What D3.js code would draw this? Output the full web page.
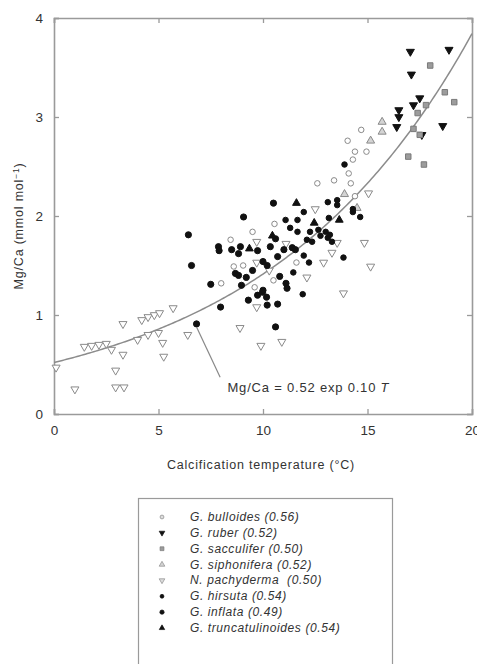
<!DOCTYPE html>
<html>
<head>
<meta charset="utf-8">
<script src="https://cdn.jsdelivr.net/npm/d3@7"></script>
<style>
  body { margin: 0; background: #fff; }
  svg { display: block; font-family: "Liberation Sans", Arial, sans-serif; }
  .tick-label { font-size: 13.5px; fill: #333; }
  .axis-title { font-size: 12.5px; fill: #333; letter-spacing: 0.8px; }
  .legend-text { font-size: 12px; fill: #333; font-style: italic; letter-spacing: 0.6px; }
</style>
</head>
<body>
<div id="wrapper"></div>
<script>
// [temperature °C, Mg/Ca mmol/mol]
const bulloides = [[14.7,2.87],[14.05,2.76],[14.4,2.65],[14.95,2.65],[14.3,2.57],[14.1,2.43],[14.2,2.33],
  [12.6,2.33],[13.4,2.36],[10.55,1.92],[9.5,1.84],[8.45,1.76],[8.6,1.49],[9.05,1.5],[8.0,1.32],
  [9.6,1.28],[11.6,1.53],[10.5,1.35],[14.4,2.2]]
const ruber = [[17.05,3.66],[18.9,3.68],[17.1,3.43],[17.5,3.19],[17.2,3.12],[16.5,3.07],[16.5,3.0],
  [16.4,2.9],[18.6,2.91],[17.6,2.82]]
const sacculifer = [[18.0,3.52],[18.7,3.25],[19.15,3.15],[17.8,3.12],[17.4,3.04],[17.2,2.88],[17.5,2.82],
  [16.95,2.6],[17.7,2.52]]
const siphonifera = [[15.7,2.95],[15.7,2.85],[15.15,2.76],[14.5,2.08],[13.9,2.22]]
const pachyderma = [[0.1,0.47],[1.0,0.25],[1.45,0.68],[1.8,0.69],[2.15,0.7],[2.5,0.71],[2.75,0.65],
  [3.3,0.91],[3.3,0.6],[2.95,0.44],[2.95,0.27],[3.35,0.27],[4.2,0.95],[4.5,0.98],[4.8,1.0],[5.05,1.02],
  [5.7,1.07],[4.0,0.75],[4.5,0.8],[5.0,0.82],[5.2,0.72],[5.25,0.58],[6.4,0.8],[8.9,0.87],[9.9,0.69],
  [10.9,0.73],[9.7,1.08],[9.7,1.53],[9.7,1.74],[12.5,2.07],[14.85,1.73],[15.15,1.49],[13.85,1.22],
  [12.1,1.38],[15.05,2.23],[13.55,1.73],[13.3,1.63],[10.3,1.45],[12.9,1.53],[11.1,1.72]]
const hirsuta = [[11.08,1.96],[11.65,1.96],[11.95,2.04],[11.3,1.88],[11.65,1.84],[12.25,1.84],[12.65,1.86],
  [13.0,1.84],[13.1,1.78],[13.2,1.81],[12.1,1.76],[12.35,1.74],[13.1,2.14],[13.55,2.11],[14.3,2.04],
  [14.65,1.99],[13.15,1.98],[13.55,2.16],[14.3,2.07],[13.85,1.58],[13.9,2.52],[12.2,1.53],[11.95,1.6],
  [11.45,1.43],[11.9,1.21],[12.75,1.8],[13.3,1.74]]
const inflata = [[6.43,1.81],[6.58,1.5],[7.5,1.31],[6.82,0.91],[7.97,1.08],[9.07,1.99],[7.87,1.69],[7.9,1.65],
  [8.92,1.69],[8.83,1.62],[9.74,1.65],[8.68,1.42],[8.83,1.4],[9.2,1.38],[8.97,1.3],[9.74,1.2],[9.98,1.23],
  [10.17,1.18],[9.3,1.15],[10.2,1.1],[10.7,1.11],[10.6,0.88],[10.5,2.13],[10.35,1.69],[11.0,1.66],
  [11.4,1.68],[11.55,1.66],[10.7,1.59],[10.2,1.5],[10.0,1.54],[10.8,1.39],[11.1,1.32],[11.15,1.27],
  [10.0,1.25],[10.6,1.77],[8.5,1.66],[9.5,1.45]]
const truncatulinoides = [[11.6,2.13],[13.65,1.96],[9.35,1.67],[12.45,1.93],[10.45,1.8]]

const xTicks = [0, 5, 10, 15, 20]
const yTicks = [0, 1, 2, 3, 4]
const legendLabels = ["G. bulloides (0.56)", "G. ruber (0.52)", "G. sacculifer (0.50)",
  "G. siphonifera (0.52)", "N. pachyderma  (0.50)", "G. hirsuta (0.54)", "G. inflata (0.49)",
  "G. truncatulinoides (0.54)"]
const fitA = 0.52
const fitB = 0.10

function drawChart() {
  const dimensions = {
    width: 477,
    height: 664,
    margin: { top: 18, left: 54 },
    boundedWidth: 418,
    boundedHeight: 396,
  }

  const wrapper = d3.select("#wrapper").append("svg")
    .attr("width", dimensions.width)
    .attr("height", dimensions.height)

  const bounds = wrapper.append("g")
    .attr("transform", `translate(${dimensions.margin.left},${dimensions.margin.top})`)

  const xScale = d3.scaleLinear().domain([0, 20]).range([0, dimensions.boundedWidth])
  const yScale = d3.scaleLinear().domain([0, 4]).range([dimensions.boundedHeight, 0])

  const frameColor = "#9a9a9a"

  // axes: ticks inside on all four sides
  const tickIn = 5
  const bottomAxis = bounds.append("g")
    .attr("transform", `translate(0,${dimensions.boundedHeight})`)
    .call(d3.axisBottom(xScale).tickValues(xTicks).tickSize(-tickIn).tickPadding(11).tickFormat(d3.format("d")))
  const topAxis = bounds.append("g")
    .call(d3.axisTop(xScale).tickValues(xTicks).tickSize(-tickIn).tickFormat(""))
  const leftAxis = bounds.append("g")
    .call(d3.axisLeft(yScale).tickValues(yTicks).tickSize(-tickIn).tickPadding(11).tickFormat(d3.format("d")))
  const rightAxis = bounds.append("g")
    .attr("transform", `translate(${dimensions.boundedWidth},0)`)
    .call(d3.axisRight(yScale).tickValues(yTicks).tickSize(-tickIn).tickFormat(""))

  ;[bottomAxis, topAxis, leftAxis, rightAxis].forEach(ax => {
    ax.select(".domain").attr("stroke", frameColor).attr("stroke-width", 1.6)
    ax.selectAll(".tick line").attr("stroke", frameColor).attr("stroke-width", 1.3)
    ax.selectAll(".tick text").attr("class", "tick-label")
      .attr("font-family", null).attr("font-size", null).attr("fill", "#333")
  })

  // fitted curve
  const curveData = d3.range(0, 20.01, 0.1)
  bounds.append("path")
    .attr("d", d3.line()
      .x(t => xScale(t))
      .y(t => yScale(fitA * Math.exp(fitB * t)))(curveData))
    .attr("fill", "none")
    .attr("stroke", "#8c8c8c")
    .attr("stroke-width", 1.5)

  // symbol styles
  const triUp = d3.symbol().type(d3.symbolTriangle)
  const styles = [
    { data: bulloides, path: d3.symbol().type(d3.symbolCircle).size(24)(), rot: 0, fill: "#fff", stroke: "#8a8a8a" },
    { data: ruber, path: triUp.size(28)(), rot: 180, fill: "#111", stroke: "#111" },
    { data: sacculifer, path: d3.symbol().type(d3.symbolSquare).size(30)(), rot: 0, fill: "#9c9c9c", stroke: "#7a7a7a" },
    { data: siphonifera, path: triUp.size(28)(), rot: 0, fill: "#d4d4d4", stroke: "#8a8a8a" },
    { data: pachyderma, path: triUp.size(28)(), rot: 180, fill: "#fff", stroke: "#8a8a8a" },
    { data: hirsuta, path: d3.symbol().type(d3.symbolCircle).size(24)(), rot: 0, fill: "#111", stroke: "#111" },
    { data: inflata, path: d3.symbol().type(d3.symbolCircle).size(30)(), rot: 0, fill: "#111", stroke: "#111" },
    { data: truncatulinoides, path: triUp.size(26)(), rot: 0, fill: "#111", stroke: "#111" },
  ]

  styles.forEach(s => {
    bounds.append("g").selectAll("path")
      .data(s.data)
      .join("path")
      .attr("d", s.path)
      .attr("transform", d => `translate(${xScale(d[0])},${yScale(d[1])}) rotate(${s.rot})`)
      .attr("fill", s.fill)
      .attr("stroke", s.stroke)
      .attr("stroke-width", 1)
  })

  // equation annotation with leader line
  const leaderFrom = inflata[3]
  bounds.append("line")
    .attr("x1", xScale(leaderFrom[0]))
    .attr("y1", yScale(leaderFrom[1]) + 3)
    .attr("x2", xScale(7.95))
    .attr("y2", yScale(0.37))
    .attr("stroke", "#888")
    .attr("stroke-width", 1.2)
  const eq = bounds.append("text")
    .attr("x", xScale(8.3))
    .attr("y", yScale(0.22))
    .attr("font-size", 13)
    .attr("letter-spacing", 0.8)
    .attr("fill", "#333")
  eq.append("tspan").text(`Mg/Ca = ${fitA.toFixed(2)} exp ${fitB.toFixed(2)} `)
  eq.append("tspan").attr("font-style", "italic").text("T")

  // axis titles
  wrapper.append("text")
    .attr("class", "axis-title")
    .attr("text-anchor", "middle")
    .attr("x", 261)
    .attr("y", 469)
    .text("Calcification temperature (°C)")
  const yTitle = wrapper.append("text")
    .attr("class", "axis-title")
    .attr("text-anchor", "middle")
    .attr("transform", `translate(23,226) rotate(-90)`)
  yTitle.append("tspan").text("Mg/Ca (mmol mol")
  yTitle.append("tspan").attr("dy", -4).attr("font-size", 8.5).text("−1")
  yTitle.append("tspan").attr("dy", 4).text(")")

  // legend
  const legend = wrapper.append("g")
  legend.append("rect")
    .attr("x", 138.5).attr("y", 498.5)
    .attr("width", 254).attr("height", 190)
    .attr("fill", "none").attr("stroke", frameColor).attr("stroke-width", 1.2)
  const rowY = d3.scaleLinear().domain([0, legendLabels.length - 1]).range([517, 628])
  legendLabels.forEach((label, i) => {
    const s = styles[i]
    legend.append("path")
      .attr("d", s.path)
      .attr("transform", `translate(162,${rowY(i)}) rotate(${s.rot}) scale(0.7)`)
      .attr("fill", s.fill === "#fff" ? "#ddd" : s.fill)
      .attr("stroke", s.stroke)
    legend.append("text")
      .attr("class", "legend-text")
      .attr("x", 190)
      .attr("y", rowY(i) + 4)
      .style("white-space", "pre")
      .text(label)
  })
}

drawChart()
</script>
</body>
</html>
